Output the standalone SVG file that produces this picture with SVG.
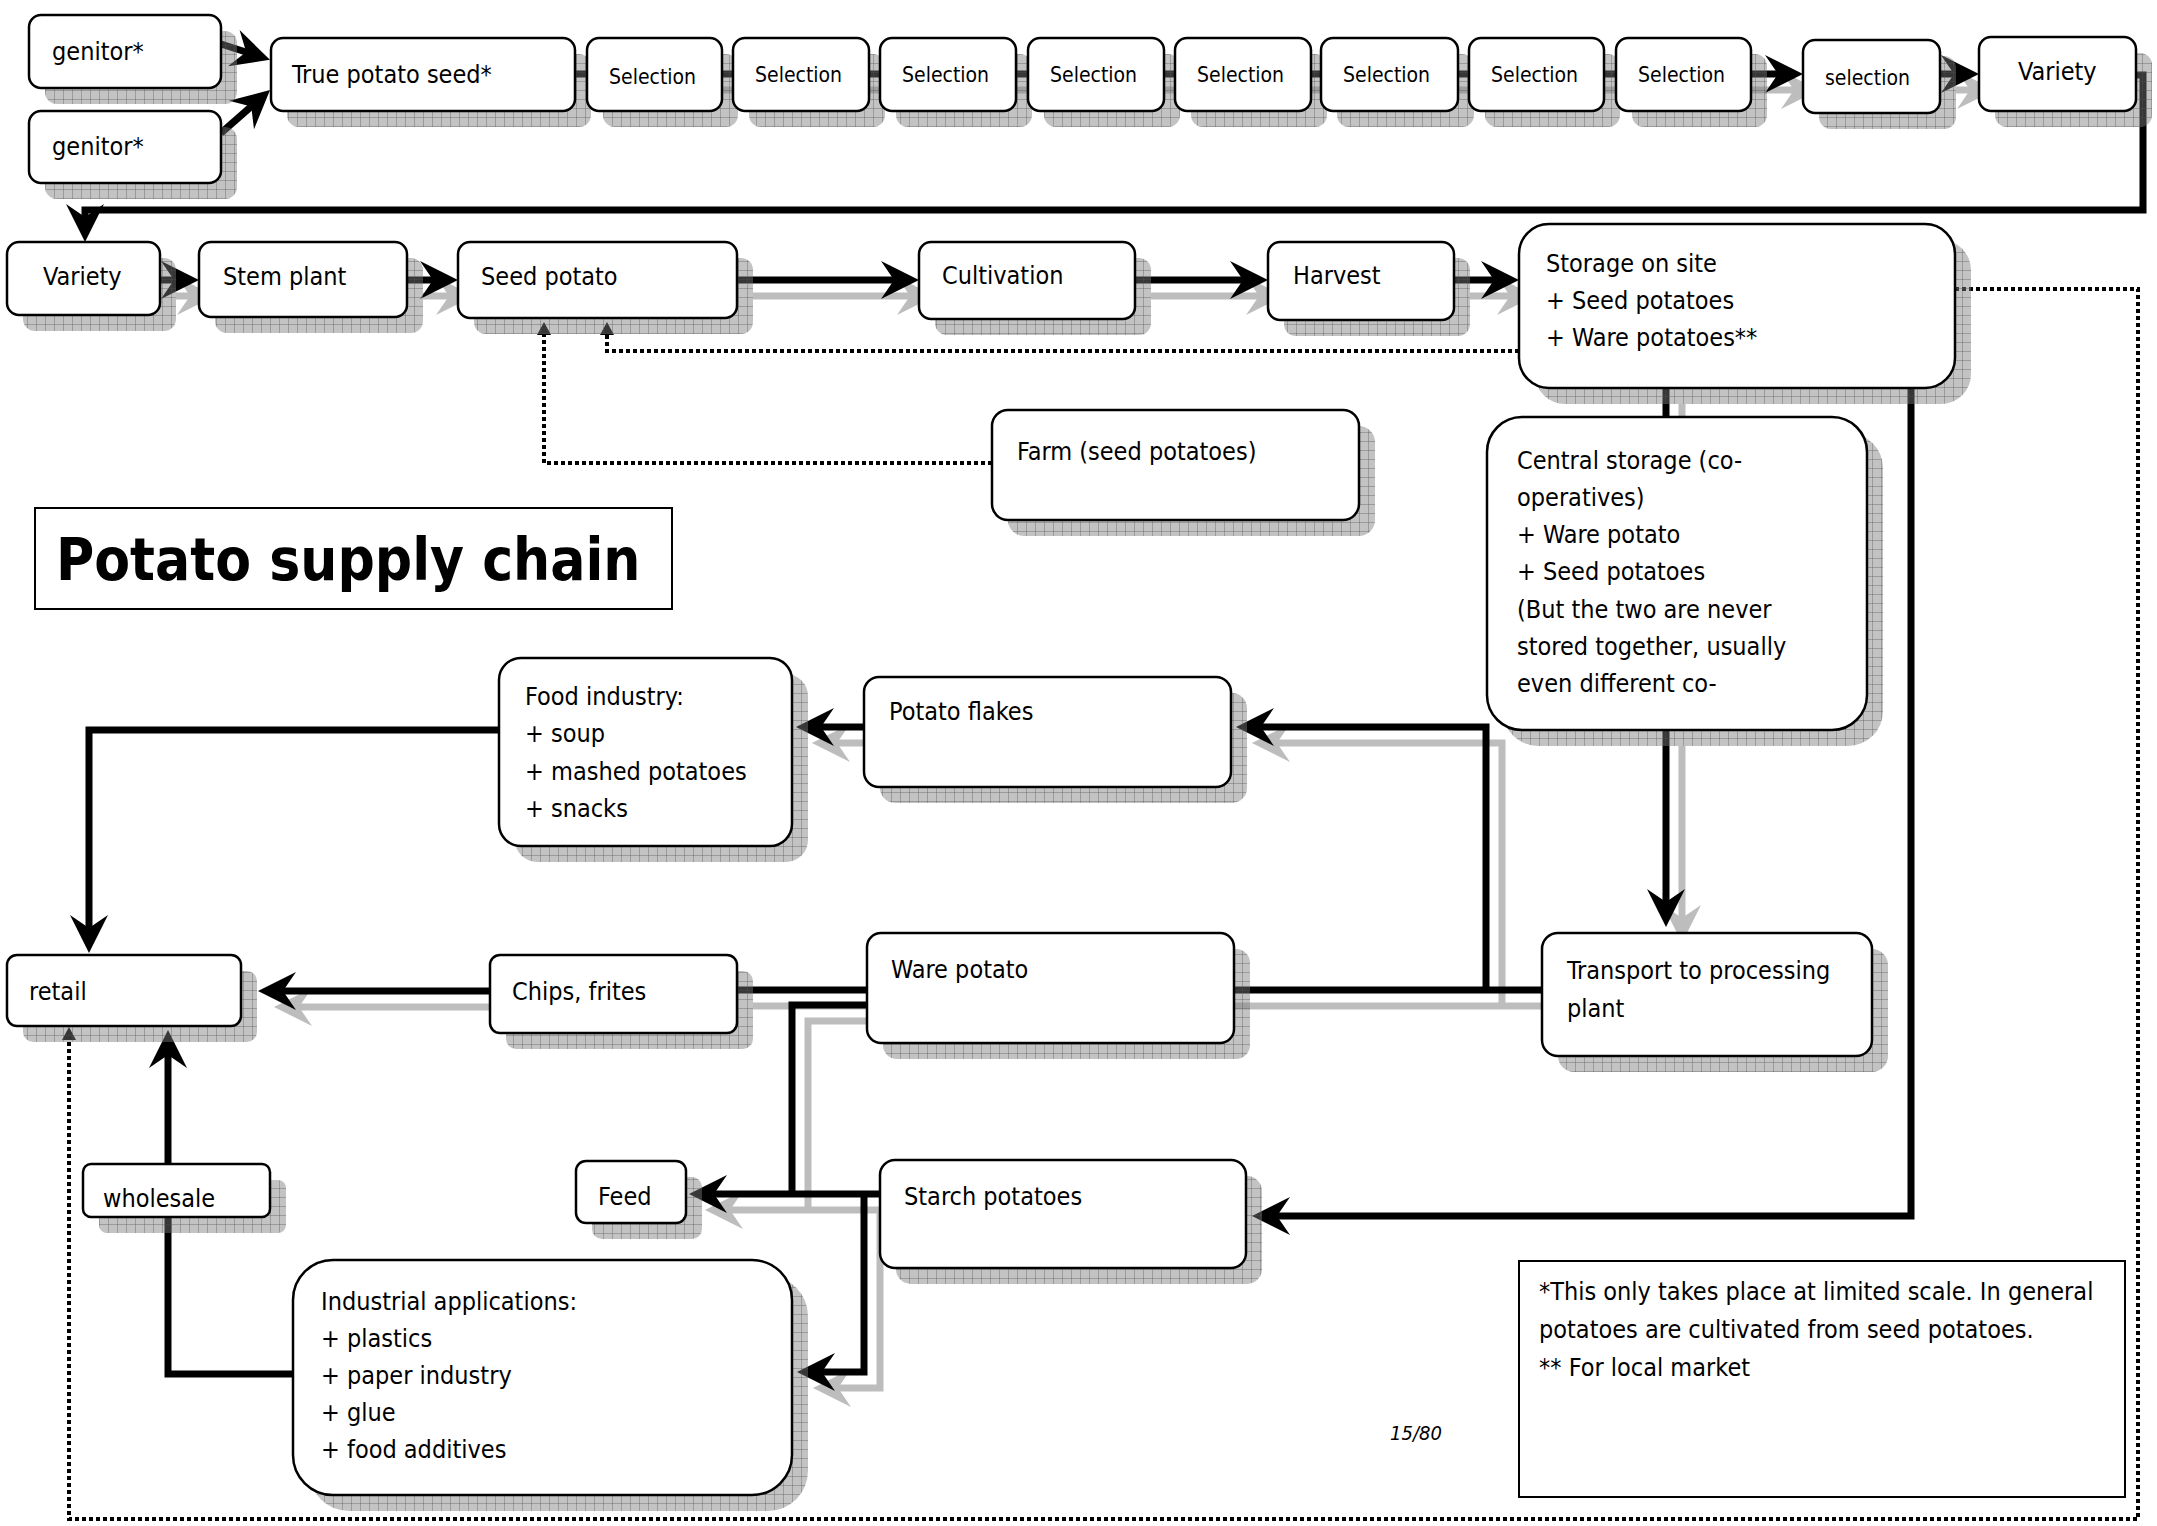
<svg xmlns="http://www.w3.org/2000/svg" width="2157" height="1526" viewBox="0 0 2157 1526">
<defs>
<style>
.t{font-family:"DejaVu Sans Condensed","DejaVu Sans",sans-serif;font-size:25px;fill:#000}
.ts{font-size:21px}
.title{font-family:"DejaVu Sans Condensed","DejaVu Sans",sans-serif;font-weight:bold;font-size:58px;fill:#000}
.pg{font-style:italic;font-size:20px}
.box{fill:#fff;stroke:#000;stroke-width:2.5}
.shd{fill:url(#hatch)}
.frame{fill:#fff;stroke:#000;stroke-width:2}
.c{fill:none;stroke:#000;stroke-width:7}
.cs{fill:none;stroke:#bdbdbd;stroke-width:7}
.d{fill:none;stroke:#000;stroke-width:4;stroke-dasharray:4 3}
</style>
<pattern id="hatch" width="9" height="9" patternUnits="userSpaceOnUse">
<rect width="9" height="9" fill="#7a7a7a" fill-opacity="0.45"/>
<path d="M0 0.5H9M0.5 0V9" stroke="#505050" stroke-opacity="0.35" stroke-width="1"/>
</pattern>
<marker id="ah" viewBox="-20 -22 46 44" markerWidth="46" markerHeight="44" refX="0" refY="0" orient="auto" markerUnits="userSpaceOnUse"><path d="M22,0 L-16,-19 L-3,0 L-16,19 Z" fill="#000"/></marker>
<marker id="ahs" viewBox="-20 -22 46 44" markerWidth="46" markerHeight="44" refX="0" refY="0" orient="auto" markerUnits="userSpaceOnUse"><path d="M22,0 L-16,-19 L-3,0 L-16,19 Z" fill="#bdbdbd"/></marker>
<marker id="dot" viewBox="-2 -9 18 18" markerWidth="18" markerHeight="18" refX="0" refY="0" orient="auto" markerUnits="userSpaceOnUse"><path d="M13,0 L0,-7 L0,7 Z" fill="#000"/></marker>
</defs>
<rect width="2157" height="1526" fill="#fff"/>

<g id="connectors">
<g id="connector-shadows">
<path class="cs" d="M591 90 H1797" marker-end="url(#ahs)"/>
<path class="cs" d="M1956 90 H1973" marker-end="url(#ahs)"/>
<path class="cs" d="M176 296 H193" marker-end="url(#ahs)"/>
<path class="cs" d="M423 296 H452" marker-end="url(#ahs)"/>
<path class="cs" d="M753 296 H913" marker-end="url(#ahs)"/>
<path class="cs" d="M1151 296 H1262" marker-end="url(#ahs)"/>
<path class="cs" d="M1470 296 H1513" marker-end="url(#ahs)"/>
<path class="cs" d="M1682 404 V433"/>
<path class="cs" d="M1682 746 V921" marker-end="url(#ahs)"/>
<path class="cs" d="M1558 1006 H753"/>
<path class="cs" d="M1502 1006 V743 H1274" marker-end="url(#ahs)"/>
<path class="cs" d="M880 743 H834" marker-end="url(#ahs)"/>
<path class="cs" d="M506 1007 H296" marker-end="url(#ahs)"/>
<path class="cs" d="M883 1021 H808 V1210"/>
<path class="cs" d="M896 1210 H727" marker-end="url(#ahs)"/>
<path class="cs" d="M880 1210 V1388 H835" marker-end="url(#ahs)"/>
</g>
<path class="c" d="M221 44 L249 53" marker-end="url(#ah)"/>
<path class="c" d="M221 133 L253.5 104.5" marker-end="url(#ah)"/>
<path class="c" d="M575 74 H1781" marker-end="url(#ah)"/>
<path class="c" d="M1940 74 H1957" marker-end="url(#ah)"/>
<path class="c" d="M2136 75 H2143 V210 H85 V220" marker-end="url(#ah)"/>
<path class="c" d="M160 280 H177" marker-end="url(#ah)"/>
<path class="c" d="M407 280 H436" marker-end="url(#ah)"/>
<path class="c" d="M737 280 H897" marker-end="url(#ah)"/>
<path class="c" d="M1135 280 H1246" marker-end="url(#ah)"/>
<path class="c" d="M1454 280 H1497" marker-end="url(#ah)"/>
<path class="c" d="M1666 388 V417"/>
<path class="c" d="M1911 388 V1216 H1274" marker-end="url(#ah)"/>
<path class="c" d="M1666 730 V905" marker-end="url(#ah)"/>
<path class="c" d="M1542 990 H737"/>
<path class="c" d="M1486 990 V727 H1258" marker-end="url(#ah)"/>
<path class="c" d="M864 727 H818" marker-end="url(#ah)"/>
<path class="c" d="M499 730 H89 V931" marker-end="url(#ah)"/>
<path class="c" d="M490 991 H280" marker-end="url(#ah)"/>
<path class="c" d="M867 1005 H792 V1194"/>
<path class="c" d="M880 1194 H711" marker-end="url(#ah)"/>
<path class="c" d="M864 1194 V1372 H819" marker-end="url(#ah)"/>
<path class="c" d="M293 1374 H168 V1052" marker-end="url(#ah)"/>
<path class="d" d="M1519 351 H607 V335" marker-end="url(#dot)"/>
<path class="d" d="M992 463 H544 V335" marker-end="url(#dot)"/>
<path class="d" d="M1955 289 H2138 V1519 H69 V1040" marker-end="url(#dot)"/>
</g>

<g id="genitor1"><rect class="shd" x="45" y="31" width="192" height="73" rx="12"/><rect class="box" x="29" y="15" width="192" height="73" rx="12"/><text class="t" x="52" y="60">genitor*</text></g>
<g id="genitor2"><rect class="shd" x="45" y="127" width="192" height="72" rx="12"/><rect class="box" x="29" y="111" width="192" height="72" rx="12"/><text class="t" x="52" y="155">genitor*</text></g>
<g id="true-potato-seed"><rect class="shd" x="287" y="54" width="304" height="73" rx="12"/><rect class="box" x="271" y="38" width="304" height="73" rx="12"/><text class="t" x="292" y="83">True potato seed*</text></g>
<g id="selection1"><rect class="shd" x="603" y="54" width="135" height="73" rx="12"/><rect class="box" x="587" y="38" width="135" height="73" rx="12"/><text class="t ts" x="609" y="84">Selection</text></g>
<g id="selection2"><rect class="shd" x="749" y="54" width="136" height="73" rx="12"/><rect class="box" x="733" y="38" width="136" height="73" rx="12"/><text class="t ts" x="755" y="82">Selection</text></g>
<g id="selection3"><rect class="shd" x="896" y="54" width="136" height="73" rx="12"/><rect class="box" x="880" y="38" width="136" height="73" rx="12"/><text class="t ts" x="902" y="82">Selection</text></g>
<g id="selection4"><rect class="shd" x="1044" y="54" width="136" height="73" rx="12"/><rect class="box" x="1028" y="38" width="136" height="73" rx="12"/><text class="t ts" x="1050" y="82">Selection</text></g>
<g id="selection5"><rect class="shd" x="1191" y="54" width="136" height="73" rx="12"/><rect class="box" x="1175" y="38" width="136" height="73" rx="12"/><text class="t ts" x="1197" y="82">Selection</text></g>
<g id="selection6"><rect class="shd" x="1337" y="54" width="137" height="73" rx="12"/><rect class="box" x="1321" y="38" width="137" height="73" rx="12"/><text class="t ts" x="1343" y="82">Selection</text></g>
<g id="selection7"><rect class="shd" x="1485" y="54" width="135" height="73" rx="12"/><rect class="box" x="1469" y="38" width="135" height="73" rx="12"/><text class="t ts" x="1491" y="82">Selection</text></g>
<g id="selection8"><rect class="shd" x="1632" y="54" width="135" height="73" rx="12"/><rect class="box" x="1616" y="38" width="135" height="73" rx="12"/><text class="t ts" x="1638" y="82">Selection</text></g>
<g id="selection9"><rect class="shd" x="1819" y="56" width="137" height="73" rx="12"/><rect class="box" x="1803" y="40" width="137" height="73" rx="12"/><text class="t ts" x="1825" y="85">selection</text></g>
<g id="variety-top"><rect class="shd" x="1995" y="53" width="157" height="74" rx="12"/><rect class="box" x="1979" y="37" width="157" height="74" rx="12"/><text class="t" x="2018" y="80">Variety</text></g>

<g id="variety"><rect class="shd" x="23" y="258" width="153" height="73" rx="12"/><rect class="box" x="7" y="242" width="153" height="73" rx="12"/><text class="t" x="43" y="285">Variety</text></g>
<g id="stem-plant"><rect class="shd" x="215" y="258" width="208" height="75" rx="12"/><rect class="box" x="199" y="242" width="208" height="75" rx="12"/><text class="t" x="223" y="285">Stem plant</text></g>
<g id="seed-potato"><rect class="shd" x="474" y="258" width="279" height="76" rx="12"/><rect class="box" x="458" y="242" width="279" height="76" rx="12"/><text class="t" x="481" y="285">Seed potato</text></g>
<g id="cultivation"><rect class="shd" x="935" y="258" width="216" height="77" rx="12"/><rect class="box" x="919" y="242" width="216" height="77" rx="12"/><text class="t" x="942" y="284">Cultivation</text></g>
<g id="harvest"><rect class="shd" x="1284" y="258" width="186" height="78" rx="12"/><rect class="box" x="1268" y="242" width="186" height="78" rx="12"/><text class="t" x="1293" y="284">Harvest</text></g>
<g id="storage-on-site"><rect class="shd" x="1535" y="240" width="436" height="164" rx="30"/><rect class="box" x="1519" y="224" width="436" height="164" rx="30"/>
<text class="t" x="1546" y="272">Storage on site</text><text class="t" x="1546" y="309">+ Seed potatoes</text><text class="t" x="1546" y="346">+ Ware potatoes**</text></g>
<g id="farm"><rect class="shd" x="1008" y="426" width="367" height="110" rx="16"/><rect class="box" x="992" y="410" width="367" height="110" rx="16"/><text class="t" x="1017" y="460">Farm (seed potatoes)</text></g>
<g id="central-storage"><rect class="shd" x="1503" y="433" width="380" height="313" rx="35"/><rect class="box" x="1487" y="417" width="380" height="313" rx="35"/>
<text class="t" x="1517" y="469">Central storage (co-</text><text class="t" x="1517" y="506">operatives)</text><text class="t" x="1517" y="543">+ Ware potato</text><text class="t" x="1517" y="580">+ Seed potatoes</text><text class="t" x="1517" y="618">(But the two are never</text><text class="t" x="1517" y="655">stored together, usually</text><text class="t" x="1517" y="692">even different co-</text></g>

<g id="title"><rect class="frame" x="35" y="508" width="637" height="101"/><text class="title" x="56" y="580">Potato supply chain</text></g>

<g id="food-industry"><rect class="shd" x="515" y="674" width="293" height="188" rx="22"/><rect class="box" x="499" y="658" width="293" height="188" rx="22"/>
<text class="t" x="525" y="705">Food industry:</text><text class="t" x="525" y="742">+ soup</text><text class="t" x="525" y="780">+ mashed potatoes</text><text class="t" x="525" y="817">+ snacks</text></g>
<g id="potato-flakes"><rect class="shd" x="880" y="693" width="367" height="110" rx="15"/><rect class="box" x="864" y="677" width="367" height="110" rx="15"/><text class="t" x="889" y="720">Potato flakes</text></g>
<g id="retail"><rect class="shd" x="23" y="971" width="234" height="71" rx="10"/><rect class="box" x="7" y="955" width="234" height="71" rx="10"/><text class="t" x="29" y="1000">retail</text></g>
<g id="chips-frites"><rect class="shd" x="506" y="971" width="247" height="78" rx="10"/><rect class="box" x="490" y="955" width="247" height="78" rx="10"/><text class="t" x="512" y="1000">Chips, frites</text></g>
<g id="ware-potato"><rect class="shd" x="883" y="949" width="367" height="110" rx="14"/><rect class="box" x="867" y="933" width="367" height="110" rx="14"/><text class="t" x="891" y="978">Ware potato</text></g>
<g id="transport"><rect class="shd" x="1558" y="949" width="330" height="123" rx="16"/><rect class="box" x="1542" y="933" width="330" height="123" rx="16"/>
<text class="t" x="1567" y="979">Transport to processing</text><text class="t" x="1567" y="1017">plant</text></g>
<g id="wholesale"><rect class="shd" x="99" y="1180" width="187" height="53" rx="8"/><rect class="box" x="83" y="1164" width="187" height="53" rx="8"/><text class="t" x="103" y="1207">wholesale</text></g>
<g id="feed"><rect class="shd" x="592" y="1177" width="110" height="62" rx="10"/><rect class="box" x="576" y="1161" width="110" height="62" rx="10"/><text class="t" x="598" y="1205">Feed</text></g>
<g id="starch-potatoes"><rect class="shd" x="896" y="1176" width="366" height="108" rx="15"/><rect class="box" x="880" y="1160" width="366" height="108" rx="15"/><text class="t" x="904" y="1205">Starch potatoes</text></g>
<g id="industrial-applications"><rect class="shd" x="309" y="1276" width="499" height="235" rx="40"/><rect class="box" x="293" y="1260" width="499" height="235" rx="40"/>
<text class="t" x="321" y="1310">Industrial applications:</text><text class="t" x="321" y="1347">+ plastics</text><text class="t" x="321" y="1384">+ paper industry</text><text class="t" x="321" y="1421">+ glue</text><text class="t" x="321" y="1458">+ food additives</text></g>

<g id="footnote"><rect class="frame" x="1519" y="1261" width="606" height="236"/>
<text class="t" x="1539" y="1300">*This only takes place at limited scale. In general</text><text class="t" x="1539" y="1338">potatoes are cultivated from seed potatoes.</text><text class="t" x="1539" y="1376">** For local market</text></g>
<text id="page-number" class="t pg" x="1390" y="1440">15/80</text>
</svg>
